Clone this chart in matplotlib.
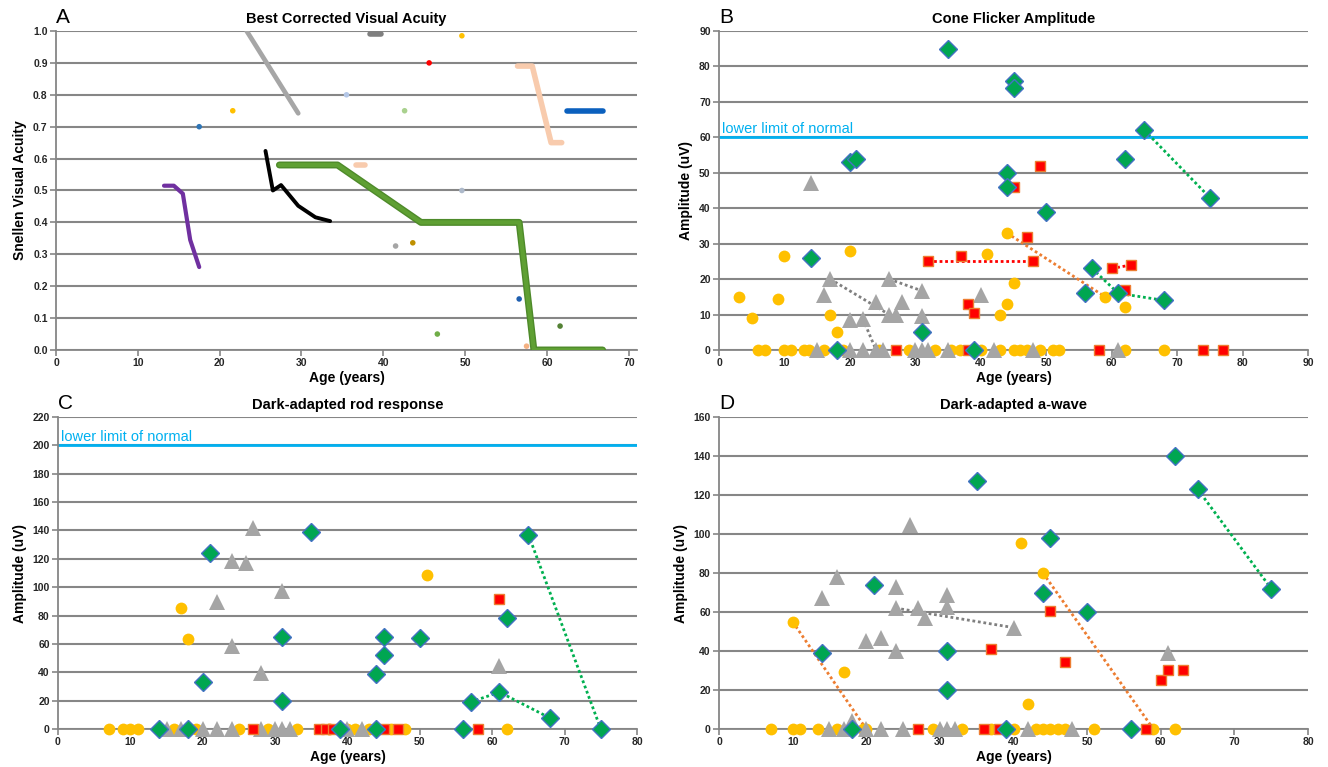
import matplotlib
matplotlib.use("Agg")
import matplotlib.pyplot as plt

plt.rcParams['font.family'] = ['Liberation Sans', 'DejaVu Sans']

# ---------------- Panel A: best corrected visual acuity ----------------
purple_age = [13.2, 14.4, 15.5, 16.4, 17.5]
purple_va = [0.515, 0.515, 0.49, 0.345, 0.26]
gray_age = [23.3, 29.6]
gray_va = [1.0, 0.742]
black_age = [25.6, 26.5, 27.5, 29.6, 31.7, 33.5]
black_va = [0.624, 0.50, 0.517, 0.452, 0.416, 0.404]
green_age = [27.3, 34.4, 44.6, 56.6, 58.4, 66.8]
green_va = [0.58, 0.58, 0.40, 0.40, 0.0, 0.0]
peach1_age = [36.6, 37.7]
peach1_va = [0.58, 0.58]
peach2_age = [56.4, 58.2, 60.5, 61.8]
peach2_va = [0.89, 0.89, 0.65, 0.65]
blue_age = [62.4, 66.8]
blue_va = [0.75, 0.75]
dgray_age = [38.4, 39.7]
dgray_va = [0.99, 0.99]

dot_age = [17.5, 21.6, 49.6, 45.6, 35.5, 42.6, 49.6, 41.5, 43.6, 56.6, 46.6, 61.6, 57.5]
dot_va = [0.70, 0.75, 0.985, 0.90, 0.80, 0.75, 0.50, 0.326, 0.336, 0.16, 0.05, 0.075, 0.012]
dot_colors = ['#2E75B6', '#FFC000', '#FFC000', '#FF0000', '#B4C7E7', '#A9D18E', '#ADB9CA',
              '#A5A5A5', '#BF9000', '#1F5FAF', '#70AD47', '#548235', '#F4B183']

# ---------------- Panel B: cone flicker amplitude ----------------
b_orange_age = [3, 5, 9, 10, 17, 18, 20, 41, 43, 44, 44, 45, 59, 62,
                6, 7, 10, 11, 13, 13.7, 16, 19, 24.5, 29, 33, 35.5, 36.8, 40, 43, 45, 46, 47, 49, 51, 52, 62, 68]
b_orange_amp = [15, 9, 14.5, 26.5, 10, 5, 28, 27, 10, 13, 33, 19, 15, 12,
                0, 0, 0, 0, 0, 0, 0, 0, 0, 0, 0, 0, 0, 0, 0, 0, 0, 0, 0, 0, 0, 0, 0]
b_gray_age = [14, 16, 17, 20, 22, 24, 26, 26, 27, 28, 31, 31, 40,
              15, 20, 22, 24, 25, 30, 31, 32, 35, 42, 48, 61]
b_gray_amp = [47, 15.5, 20, 8.5, 8.7, 13.6, 20, 10, 10, 13.6, 16.7, 9.6, 15.5,
              0, 0, 0, 0, 0, 0, 0, 0, 0, 0, 0, 0]
b_red_age = [32, 37, 38, 39, 45, 47, 48, 49, 60, 62, 63, 27, 38, 58, 74, 77]
b_red_amp = [25, 26.5, 13, 10.5, 46, 32, 25, 52, 23, 17, 24, 0, 0, 0, 0, 0]
b_green_age = [14, 20, 21, 31, 35, 44, 44, 45, 45, 50, 56, 57, 61, 62, 65, 68, 75, 18, 39]
b_green_amp = [26, 53, 54, 5, 85, 50, 46, 76, 74, 39, 16, 23, 16, 54, 62, 14, 43, 0, 0]
b_links = [
    ('#7F7F7F', [17, 26], [20, 10]),
    ('#7F7F7F', [26, 31], [20, 16.7]),
    ('#7F7F7F', [22, 24], [8.7, 0]),
    ('#FF0000', [32, 48], [25, 25]),
    ('#FF0000', [60, 63], [23, 24]),
    ('#ED7D31', [44, 59], [33, 15]),
    ('#00B050', [65, 75], [62, 43]),
    ('#00B050', [57, 61, 68], [23, 16, 14]),
]

# ---------------- Panel C: dark-adapted rod response ----------------
c_orange_age = [17, 18, 51, 7, 9, 10, 11, 16, 19, 25, 29, 33, 37.5, 40, 41, 43, 46, 48, 62]
c_orange_amp = [85.6, 63.6, 108.6, 0, 0, 0, 0, 0, 0, 0, 0, 0, 0, 0, 0, 0, 0, 0, 0]
c_gray_age = [22, 24, 24, 26, 27, 28, 31, 61, 15, 17, 20, 22, 24, 28, 30, 31, 32, 40, 42]
c_gray_amp = [89.4, 118.7, 58.2, 117.3, 141.4, 39.4, 97.3, 44.1, 0, 0, 0, 0, 0, 0, 0, 0, 0, 0, 0]
c_red_age = [61, 27, 36, 37, 38, 45, 47, 58]
c_red_amp = [92, 0, 0, 0, 0, 0, 0, 0]
c_green_age = [20, 21, 31, 31, 35, 44, 45, 45, 50, 57, 61, 62, 65, 68, 14, 18, 39, 44, 56, 75]
c_green_amp = [33, 124, 65, 20, 139, 39, 65, 52, 64, 19, 26, 78, 137, 7.7, 0, 0, 0, 0, 0, 0]
c_links = [
    ('#00B050', [65, 75], [137, 0]),
    ('#00B050', [57, 61, 68], [19, 26, 7.7]),
]

# ---------------- Panel D: dark-adapted a-wave ----------------
d_orange_age = [10, 17, 41, 42, 44, 7, 10, 11, 13.5, 16, 19.5, 20, 29, 33, 37, 40, 43, 44, 45, 46, 47, 51, 59, 62]
d_orange_amp = [55, 29, 95.5, 13, 80, 0, 0, 0, 0, 0, 0, 0, 0, 0, 0, 0, 0, 0, 0, 0, 0, 0, 0, 0]
d_gray_age = [14, 16, 18, 20, 22, 24, 24, 24, 26, 27, 28, 31, 31, 40, 61,
              15, 17, 20, 22, 25, 30, 31, 32, 42, 48]
d_gray_amp = [67, 78, 4.3, 45, 46.6, 73, 62, 40, 104.6, 62, 57, 68.7, 62.8, 51.7, 39.2,
              0, 0, 0, 0, 0, 0, 0, 0, 0, 0]
d_red_age = [37, 45, 47, 60, 61, 63, 27, 36, 38, 58]
d_red_amp = [41, 60.6, 34.3, 25, 30.4, 30.4, 0, 0, 0, 0]
d_green_age = [14, 21, 31, 31, 35, 44, 45, 50, 62, 65, 75, 18, 39, 56]
d_green_amp = [39, 74, 40, 20, 127, 70, 98, 60, 140, 123, 72, 0, 0, 0]
d_links = [
    ('#ED7D31', [10, 20], [55, 0]),
    ('#ED7D31', [44, 59], [80, 0]),
    ('#7F7F7F', [24, 40], [62, 52]),
    ('#00B050', [65, 75], [123, 72]),
]

GRID = '#868686'


def style_axes(ax, xmax, xstep, ymax, ystep, ylabel, fmt):
    ax.set_xlim(0, xmax)
    ax.set_ylim(0, ymax)
    ax.set_xticks([v for v in range(0, int(xmax) + 1, xstep)])
    yt = [i * ystep for i in range(int(round(ymax / ystep)) + 1)]
    ax.set_yticks(yt)
    ax.set_yticklabels([fmt.format(v) for v in yt])
    for s in ['top', 'right']:
        ax.spines[s].set_visible(False)
    for s in ['left', 'bottom']:
        ax.spines[s].set_color(GRID)
        ax.spines[s].set_linewidth(1.3)
    ax.yaxis.grid(True, color=GRID, linewidth=1.5)
    ax.set_axisbelow(True)
    ax.tick_params(axis='both', direction='out', length=4, width=1.2, color=GRID,
                   labelsize=7.5, pad=2)
    for lab in ax.get_xticklabels() + ax.get_yticklabels():
        lab.set_fontweight('bold')
        lab.set_color('#262626')
    ax.set_xlabel('Age (years)', fontsize=10, fontweight='bold', labelpad=2)
    ax.set_ylabel(ylabel, fontsize=10, fontweight='bold', labelpad=4)


def erg_panel(ax, orange, gray, red, green, links):
    for col, xs, ys in links:
        ax.plot(xs, ys, linestyle=(0, (1, 1)), color=col, linewidth=2, zorder=3)
    ax.plot(orange[0], orange[1], 'o', color='#FFC000', markersize=8.5,
            markeredgewidth=0, clip_on=False, zorder=4)
    ax.plot(gray[0], gray[1], '^', color='#A5A5A5', markersize=11,
            markeredgewidth=0, clip_on=False, zorder=5)
    ax.plot(red[0], red[1], 's', markerfacecolor='#FF0000', markeredgecolor='#ED7D31',
            markeredgewidth=1, markersize=7, linestyle='none', clip_on=False, zorder=6)
    ax.plot(green[0], green[1], 'D', markerfacecolor='#00A651', markeredgecolor='#4472C4',
            markeredgewidth=1, markersize=9.5, linestyle='none', clip_on=False, zorder=7)


def lower_limit(ax, y):
    ax.axhline(y, color='#00B0F0', linewidth=2, zorder=2)
    ax.text(0.4, y + 0.5 * (ax.get_ylim()[1] / 90), 'lower limit of normal',
            color='#00B0F0', fontsize=10.5, va='bottom', ha='left')


fig = plt.figure(figsize=(13.28, 7.67), dpi=100)
axA = fig.add_axes([0.04217, 0.54368, 0.43750, 0.41591])
axB = fig.add_axes([0.54142, 0.54368, 0.44352, 0.41591])
axC = fig.add_axes([0.04367, 0.04954, 0.43599, 0.40678])
axD = fig.add_axes([0.54142, 0.04954, 0.44352, 0.40678])

# Panel A
style_axes(axA, 71, 10, 1.0, 0.1, 'Snellen Visual Acuity', '{:.1f}')
axA.set_xticks(range(0, 71, 10))
line_kw = dict(solid_capstyle='round', solid_joinstyle='round', zorder=3)
axA.plot(purple_age, purple_va, color='#7030A0', linewidth=3, **line_kw)
axA.plot(gray_age, gray_va, color='#A6A6A6', linewidth=3.4, **line_kw)
axA.plot(black_age, black_va, color='#000000', linewidth=2.8, **line_kw)
axA.plot(green_age, green_va, color='#4E8A2A', linewidth=5, **line_kw)
axA.plot(green_age, green_va, color='#5FA033', linewidth=3, **line_kw)
axA.plot(peach1_age, peach1_va, color='#F8CBAD', linewidth=4, **line_kw)
axA.plot(peach2_age, peach2_va, color='#F8CBAD', linewidth=4, **line_kw)
axA.plot(blue_age, blue_va, color='#0B60BE', linewidth=4, **line_kw)
axA.plot(dgray_age, dgray_va, color='#7F7F7F', linewidth=4, **line_kw)
axA.scatter(dot_age, dot_va, c=dot_colors, s=16, zorder=4, linewidths=0, clip_on=False)

# Panel B
style_axes(axB, 90, 10, 90, 10, 'Amplitude (uV)', '{:.0f}')
lower_limit(axB, 60)
erg_panel(axB, (b_orange_age, b_orange_amp), (b_gray_age, b_gray_amp),
          (b_red_age, b_red_amp), (b_green_age, b_green_amp), b_links)

# Panel C
style_axes(axC, 80, 10, 220, 20, 'Amplitude (uV)', '{:.0f}')
lower_limit(axC, 200)
erg_panel(axC, (c_orange_age, c_orange_amp), (c_gray_age, c_gray_amp),
          (c_red_age, c_red_amp), (c_green_age, c_green_amp), c_links)

# Panel D
style_axes(axD, 80, 10, 160, 20, 'Amplitude (uV)', '{:.0f}')
erg_panel(axD, (d_orange_age, d_orange_amp), (d_gray_age, d_gray_amp),
          (d_red_age, d_red_amp), (d_green_age, d_green_amp), d_links)

titles = ['Best Corrected Visual Acuity', 'Cone Flicker Amplitude',
          'Dark-adapted rod response', 'Dark-adapted a-wave']
letters = ['A', 'B', 'C', 'D']
for ax, t, l in zip([axA, axB, axC, axD], titles, letters):
    ax.set_title(t, fontsize=10.5, fontweight='bold', pad=6)
    ax.text(0.0, 1.012, l, transform=ax.transAxes, fontsize=15, ha='left', va='bottom')

fig.savefig('out.png', dpi=100)
